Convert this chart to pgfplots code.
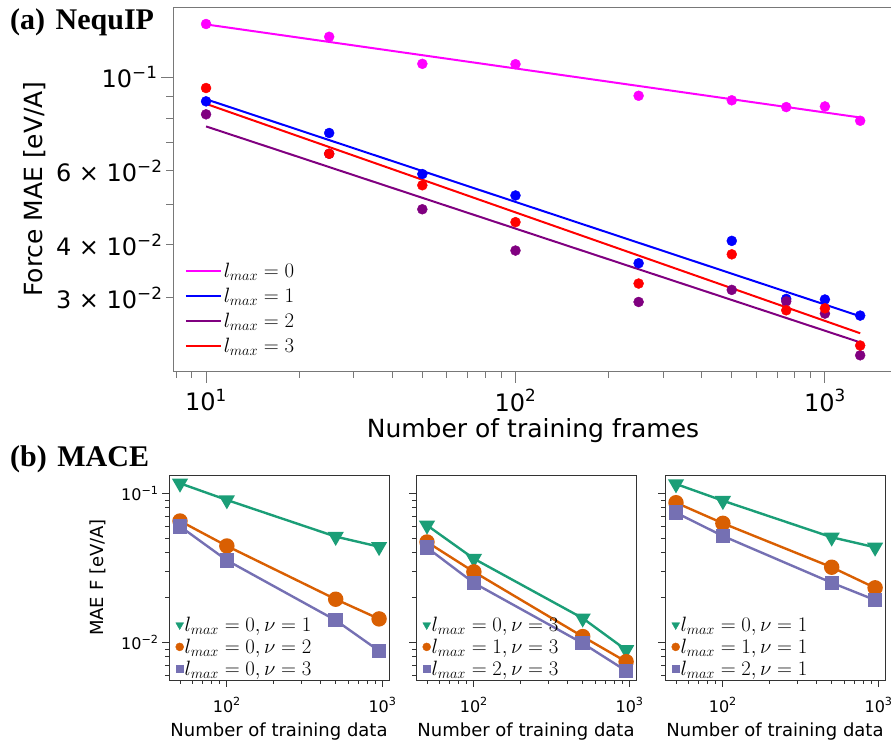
\documentclass[border=0pt]{standalone}
\usepackage{fontspec}
\setmainfont{DejaVu Sans}
\newfontfamily\timesfont{Liberation Serif}
\usepackage{pgfplots}
\pgfplotsset{compat=1.18}

\definecolor{cmag}{RGB}{255,0,255}
\definecolor{cblue}{RGB}{0,0,255}
\definecolor{cpurp}{RGB}{128,0,128}
\definecolor{cred}{RGB}{255,0,0}
\definecolor{dgreen}{RGB}{27,158,119}
\definecolor{dorange}{RGB}{217,95,2}
\definecolor{dpurple}{RGB}{117,112,179}
\definecolor{framegray}{RGB}{120,120,120}

\tikzset{
  serG/.style={color=dgreen, line width=2.4pt, mark=triangle*, mark size=7pt, mark options={rotate=180}},
  serO/.style={color=dorange, line width=2.4pt, mark=*, mark size=6.5pt},
  serP/.style={color=dpurple, line width=2.4pt, mark=square*, mark size=6pt},
}

\begin{document}
\begin{tikzpicture}
\useasboundingbox (0,0) rectangle (891pt,744pt);

% ---- (a) NequIP ----
\begin{axis}[
  at={(173pt,373pt)}, anchor=south west,
  scale only axis, width=720pt, height=364pt,
  xmode=log, ymode=log,
  xmin=7.82, xmax=1660, ymin=0.0201, ymax=0.1466,
  xtick pos=bottom, ytick pos=left,
  xtick={10,100,1000},
  xticklabels={10\textsuperscript{1},10\textsuperscript{2},10\textsuperscript{3}},
  minor xtick={8,9,20,30,40,50,60,70,80,90,200,300,400,500,600,700,800,900},
  ytick={0.1}, yticklabels={10\textsuperscript{−1}},
  extra y ticks={0.03,0.04,0.06},
  extra y tick labels={3 × 10\textsuperscript{−2},4 × 10\textsuperscript{−2},6 × 10\textsuperscript{−2}},
  extra y tick style={major tick length=7pt},
  minor ytick={0.05,0.07,0.08,0.09},
  tick align=outside, major tick length=12pt, minor tick length=7pt,
  axis line style={framegray, line width=1pt},
  tick style={framegray, line width=0.9pt},
  ticklabel style={font=\fontsize{24}{24}\selectfont},
  xticklabel style={yshift=-3pt},
  xlabel={Number of training frames},
  ylabel={Force MAE [eV/A]},
  label style={font=\fontsize{25}{25}\selectfont},
  xlabel style={yshift=0pt},
  ylabel style={yshift=-9pt},
  legend style={draw=none, fill=none, at={(0.012,0.035)}, anchor=south west,
    font=\fontsize{21}{21}\selectfont, row sep=5pt},
  legend cell align=left,
  legend image code/.code={\draw[#1] (0pt,0pt) -- (35pt,0pt);},
]
\addplot[forget plot, only marks, mark=*, mark size=5pt, color=cmag] coordinates {
  (10,0.1336) (25,0.1246) (50,0.1075) (100,0.1073) (250,0.0903)
  (500,0.0881) (750,0.0849) (1000,0.0852) (1300,0.0788)};
\addplot[forget plot, only marks, mark=*, mark size=5pt, color=cblue] coordinates {
  (10,0.0876) (25,0.0737) (50,0.0589) (100,0.0524) (250,0.0362)
  (500,0.0409) (750,0.0298) (1000,0.0297) (1300,0.0272)};
\addplot[forget plot, only marks, mark=*, mark size=5pt, color=cpurp] coordinates {
  (10,0.0816) (25,0.0658) (50,0.0486) (100,0.0388) (250,0.0293)
  (500,0.0313) (750,0.0294) (1000,0.0275) (1300,0.0219)};
\addplot[forget plot, only marks, mark=*, mark size=5pt, color=cred] coordinates {
  (10,0.0942) (25,0.0658) (50,0.0554) (100,0.0453) (250,0.0324)
  (500,0.0380) (750,0.0280) (1000,0.0283) (1300,0.0231)};
% fitted power laws
\addplot[forget plot, no marks, color=cmag, line width=2pt] coordinates {(10,0.1333) (1300,0.0802)};
\addplot[forget plot, no marks, color=cblue, line width=2pt] coordinates {(10,0.0886) (1300,0.0271)};
\addplot[forget plot, no marks, color=cpurp, line width=2pt] coordinates {(10,0.0764) (1300,0.0235)};
\addplot[forget plot, no marks, color=cred, line width=2pt] coordinates {(10,0.0864) (1300,0.0247)};
\addlegendimage{draw=cmag, line width=2pt}
\addlegendentry{$l_{max}=0$}
\addlegendimage{draw=cblue, line width=2pt}
\addlegendentry{$l_{max}=1$}
\addlegendimage{draw=cpurp, line width=2pt}
\addlegendentry{$l_{max}=2$}
\addlegendimage{draw=cred, line width=2pt}
\addlegendentry{$l_{max}=3$}
\end{axis}

% ---- (b) MACE, panel 1 ----
\begin{axis}[at={(169pt,64pt)}, anchor=south west,
  scale only axis, width=220pt, height=205pt,
  xmode=log, ymode=log,
  xmin=42.5, xmax=1100, ymin=0.00558, ymax=0.1327,
  xtick pos=bottom, ytick pos=left,
  xtick={100,1000}, xticklabels={10\textsuperscript{2},10\textsuperscript{3}},
  minor xtick={50,60,70,80,90,200,300,400,500,600,700,800,900},
  ytick={0.01,0.1}, yticklabels={10\textsuperscript{−2},10\textsuperscript{−1}},
  minor ytick={0.006,0.007,0.008,0.009,0.02,0.03,0.04,0.05,0.06,0.07,0.08,0.09},
  tick align=outside, major tick length=7pt, minor tick length=4pt,
  axis line style={black!80, line width=1pt},
  tick style={black!80, line width=0.8pt},
  ticklabel style={font=\fontsize{16}{16}\selectfont},
  xticklabel style={yshift=-7pt},
  xlabel={Number of training data}, ylabel={MAE F [eV/A]},
  label style={font=\fontsize{18}{18}\selectfont},
  xlabel style={yshift=-4pt}, ylabel style={yshift=8pt},
  legend style={draw=none, fill=none, at={(0.025,0.01)}, anchor=south west,
    font=\fontsize{20.5}{20.5}\selectfont, row sep=6pt, inner sep=1pt,
    nodes={inner xsep=1pt, inner ysep=0pt}},
  legend cell align=left]
\addplot[serG, forget plot] coordinates {(50,0.1167) (100,0.0902) (500,0.0512) (950,0.0438)};
\addplot[serO, forget plot] coordinates {(50,0.0652) (100,0.0443) (500,0.01945) (950,0.01435)};
\addplot[serP, forget plot] coordinates {(50,0.0600) (100,0.0355) (500,0.01405) (950,0.00875)};
\addlegendimage{only marks, color=dgreen, mark=triangle*, mark size=4.5pt, mark options={rotate=180}}
\addlegendentry{$l_{max}=0,\nu=1$}
\addlegendimage{only marks, color=dorange, mark=*, mark size=4pt}
\addlegendentry{$l_{max}=0,\nu=2$}
\addlegendimage{only marks, color=dpurple, mark=square*, mark size=3.8pt}
\addlegendentry{$l_{max}=0,\nu=3$}
\end{axis}

% ---- panel 2 ----
\begin{axis}[at={(416pt,64pt)}, anchor=south west,
  scale only axis, width=220pt, height=205pt,
  xmode=log, ymode=log,
  xmin=42.5, xmax=1100, ymin=0.00558, ymax=0.1327,
  xtick pos=bottom, ytick pos=left,
  xtick={100,1000}, xticklabels={10\textsuperscript{2},10\textsuperscript{3}},
  minor xtick={50,60,70,80,90,200,300,400,500,600,700,800,900},
  ytick={0.01,0.1}, yticklabels={},
  minor ytick={0.006,0.007,0.008,0.009,0.02,0.03,0.04,0.05,0.06,0.07,0.08,0.09},
  tick align=outside, major tick length=7pt, minor tick length=4pt,
  axis line style={black!80, line width=1pt},
  tick style={black!80, line width=0.8pt},
  ticklabel style={font=\fontsize{16}{16}\selectfont},
  xticklabel style={yshift=-7pt},
  xlabel={Number of training data},
  label style={font=\fontsize{18}{18}\selectfont},
  xlabel style={yshift=-4pt},
  legend style={draw=none, fill=none, at={(0.025,0.01)}, anchor=south west,
    font=\fontsize{20.5}{20.5}\selectfont, row sep=6pt, inner sep=1pt,
    nodes={inner xsep=1pt, inner ysep=0pt}},
  legend cell align=left]
\addplot[serG, forget plot] coordinates {(50,0.0610) (100,0.0364) (500,0.01450) (950,0.00888)};
\addplot[serO, forget plot] coordinates {(50,0.0471) (100,0.0297) (500,0.01092) (950,0.00741)};
\addplot[serP, forget plot] coordinates {(50,0.0432) (100,0.0250) (500,0.00985) (950,0.00643)};
\addlegendimage{only marks, color=dgreen, mark=triangle*, mark size=4.5pt, mark options={rotate=180}}
\addlegendentry{$l_{max}=0,\nu=3$}
\addlegendimage{only marks, color=dorange, mark=*, mark size=4pt}
\addlegendentry{$l_{max}=1,\nu=3$}
\addlegendimage{only marks, color=dpurple, mark=square*, mark size=3.8pt}
\addlegendentry{$l_{max}=2,\nu=3$}
\end{axis}

% ---- panel 3 ----
\begin{axis}[at={(665pt,64pt)}, anchor=south west,
  scale only axis, width=220pt, height=205pt,
  xmode=log, ymode=log,
  xmin=42.5, xmax=1100, ymin=0.00558, ymax=0.1327,
  xtick pos=bottom, ytick pos=left,
  xtick={100,1000}, xticklabels={10\textsuperscript{2},10\textsuperscript{3}},
  minor xtick={50,60,70,80,90,200,300,400,500,600,700,800,900},
  ytick={0.01,0.1}, yticklabels={},
  minor ytick={0.006,0.007,0.008,0.009,0.02,0.03,0.04,0.05,0.06,0.07,0.08,0.09},
  tick align=outside, major tick length=7pt, minor tick length=4pt,
  axis line style={black!80, line width=1pt},
  tick style={black!80, line width=0.8pt},
  ticklabel style={font=\fontsize{16}{16}\selectfont},
  xticklabel style={yshift=-7pt},
  xlabel={Number of training data},
  label style={font=\fontsize{18}{18}\selectfont},
  xlabel style={yshift=-4pt},
  legend style={draw=none, fill=none, at={(0.025,0.01)}, anchor=south west,
    font=\fontsize{20.5}{20.5}\selectfont, row sep=6pt, inner sep=1pt,
    nodes={inner xsep=1pt, inner ysep=0pt}},
  legend cell align=left]
\addplot[serG, forget plot] coordinates {(50,0.1155) (100,0.0892) (500,0.0507) (950,0.0434)};
\addplot[serO, forget plot] coordinates {(50,0.0865) (100,0.0629) (500,0.0319) (950,0.0232)};
\addplot[serP, forget plot] coordinates {(50,0.0741) (100,0.0517) (500,0.0251) (950,0.0192)};
\addlegendimage{only marks, color=dgreen, mark=triangle*, mark size=4.5pt, mark options={rotate=180}}
\addlegendentry{$l_{max}=0,\nu=1$}
\addlegendimage{only marks, color=dorange, mark=*, mark size=4pt}
\addlegendentry{$l_{max}=1,\nu=1$}
\addlegendimage{only marks, color=dpurple, mark=square*, mark size=3.8pt}
\addlegendentry{$l_{max}=2,\nu=1$}
\end{axis}

\node[anchor=base west, inner sep=0pt, font=\timesfont\bfseries\fontsize{30}{30}\selectfont] at (10pt,714pt) {(a)\hspace{0.35em}NequIP};
\node[anchor=base west, inner sep=0pt, font=\timesfont\bfseries\fontsize{30}{30}\selectfont] at (10pt,277pt) {(b)\hspace{0.35em}MACE};
\end{tikzpicture}
\end{document}
